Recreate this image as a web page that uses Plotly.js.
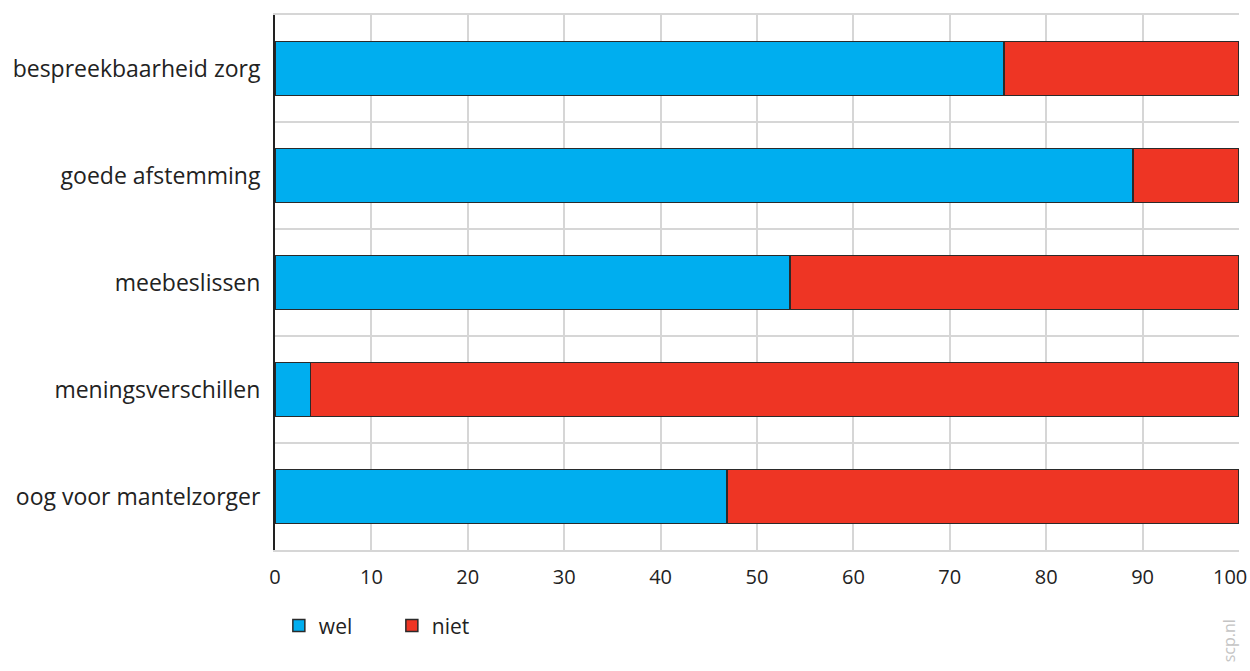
<!DOCTYPE html>
<html>
<head>
<meta charset="utf-8">
<script src="https://cdn.plot.ly/plotly-3.0.1.min.js"></script>
<style>html,body{margin:0;padding:0;background:#fff;}#chart{width:1250px;height:671px;}</style>
</head>
<body>
<div id="chart"></div>
<script>
const categories = ["bespreekbaarheid zorg", "goede afstemming", "meebeslissen", "meningsverschillen", "oog voor mantelzorger"];
const welValues = [75.6, 89.0, 53.4, 3.7, 46.9];
const nietValues = [24.4, 11.0, 46.6, 96.3, 53.1];
const xTicks = [0, 10, 20, 30, 40, 50, 60, 70, 80, 90, 100];

const outline = {color: "#2a2a2a", width: 1.5};
const traces = [
  {type: "bar", orientation: "h", name: "wel", y: categories, x: welValues,
   marker: {color: "#00AEEF", line: outline}, width: 0.505, hoverinfo: "x+y"},
  {type: "bar", orientation: "h", name: "niet", y: categories, x: nietValues,
   marker: {color: "#EE3524", line: outline}, width: 0.505, hoverinfo: "x+y"}
];

const lastTick = xTicks[xTicks.length - 1];
const layout = {
  width: 1250, height: 671,
  margin: {l: 275, r: 11, t: 15, b: 121, pad: 0},
  barmode: "stack",
  paper_bgcolor: "#fff", plot_bgcolor: "#fff",
  font: {family: "Open Sans, Noto Sans, sans-serif", color: "#222", size: 20},
  showlegend: true,
  legend: {orientation: "h", x: 0.004, xanchor: "left", y: -0.142, yanchor: "middle",
           font: {size: 21, color: "#222"}, traceorder: "normal", itemwidth: 30,
           entrywidth: 68, entrywidthmode: "pixels", tracegroupgap: 0},
  xaxis: {range: [0, 100], tickvals: xTicks,
          ticktext: xTicks.map(v => v === lastTick ? "" : String(v)),
          showgrid: true, gridcolor: "#d6d6d6", gridwidth: 2,
          zeroline: false, showline: true, linecolor: "#d6d6d6", linewidth: 2, mirror: true,
          ticks: "", tickfont: {size: 20, color: "#222"}, ticklabelstandoff: 8, fixedrange: true},
  yaxis: {type: "category", categoryorder: "array", categoryarray: categories,
          autorange: "reversed", tickson: "boundaries", showgrid: true, gridcolor: "#d6d6d6", gridwidth: 2,
          showline: true, linecolor: "#222", linewidth: 2, ticks: "",
          tickfont: {size: 23, color: "#222"}, ticklabelstandoff: 8, zeroline: false, fixedrange: true},
  annotations: [
    {text: String(lastTick), xref: "x", yref: "paper", x: lastTick, y: 0, xanchor: "right", yanchor: "top",
     xshift: 10, yshift: -11, showarrow: false, font: {size: 20, color: "#222"}},
    {text: "scp.nl", xref: "paper", yref: "paper", x: 0.99, y: -0.17, xanchor: "center", yanchor: "middle",
     textangle: -90, showarrow: false, font: {size: 16, color: "#c4c4c4"}}
  ]
};

Plotly.newPlot("chart", traces, layout, {displayModeBar: false, staticPlot: true});
</script>
</body>
</html>
